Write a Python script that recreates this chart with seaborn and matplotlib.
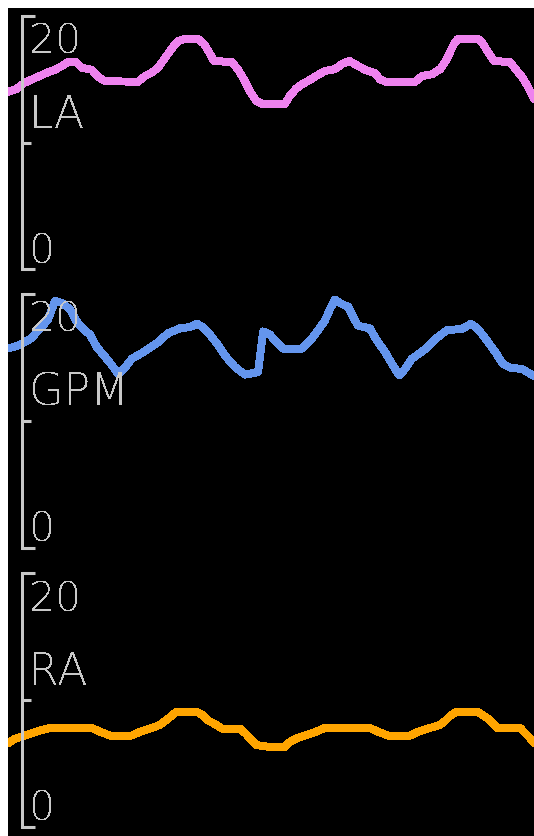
import matplotlib
matplotlib.use("Agg")
import matplotlib.pyplot as plt
from matplotlib.patches import Rectangle
import seaborn as sns

sns.set_style("white")
plt.rcParams["font.family"] = ["DejaVu Sans"]
plt.rcParams["text.antialiased"] = False

# Pressure traces (time in s, pressure in mmHg)
la_time = [0.000, 0.030, 0.061, 0.103, 0.152, 0.179, 0.205, 0.228, 0.259, 0.281,
           0.319, 0.342, 0.369, 0.494, 0.521, 0.548, 0.570, 0.589, 0.608, 0.627,
           0.646, 0.673, 0.722, 0.745, 0.764, 0.783, 0.852, 0.875, 0.897, 0.920,
           0.943, 0.966, 1.053, 1.072, 1.095, 1.118, 1.148, 1.179, 1.205, 1.243,
           1.270, 1.297, 1.323, 1.357, 1.395, 1.414, 1.437, 1.548, 1.574, 1.612,
           1.643, 1.665, 1.681, 1.696, 1.711, 1.787, 1.806, 1.825, 1.848, 1.909,
           1.932, 1.954, 1.977, 2.000]
la_values = [14.0, 14.2, 14.7, 15.1, 15.55, 15.75, 16.05, 16.35, 16.35, 15.9,
             15.75, 15.2, 14.85, 14.8, 15.25, 15.55, 15.9, 16.45, 17.0, 17.55,
             18.0, 18.2, 18.2, 17.8, 17.15, 16.45, 16.35, 15.75, 15.0, 14.05,
             13.3, 13.05, 13.05, 13.7, 14.25, 14.6, 14.95, 15.35, 15.65, 15.8,
             16.2, 16.45, 16.15, 15.75, 15.5, 15.0, 14.8, 14.8, 15.25, 15.4,
             15.8, 16.45, 17.15, 17.8, 18.2, 18.2, 17.8, 17.15, 16.45, 16.35,
             15.75, 15.2, 14.4, 13.45]

gpm_time = [0.000, 0.046, 0.084, 0.122, 0.152, 0.179, 0.205, 0.236, 0.259, 0.285,
            0.312, 0.338, 0.369, 0.395, 0.418, 0.441, 0.471, 0.521, 0.570, 0.608,
            0.654, 0.692, 0.719, 0.741, 0.768, 0.798, 0.829, 0.863, 0.901, 0.951,
            0.970, 0.996, 1.023, 1.046, 1.118, 1.148, 1.179, 1.205, 1.224, 1.243,
            1.270, 1.293, 1.312, 1.331, 1.376, 1.399, 1.433, 1.460, 1.487, 1.510,
            1.536, 1.586, 1.624, 1.669, 1.726, 1.760, 1.787, 1.817, 1.852, 1.882,
            1.909, 1.954, 2.000]
gpm_values = [15.7, 16.0, 16.45, 17.25, 18.0, 19.45, 19.3, 18.8, 17.9, 17.25,
              16.8, 15.8, 15.05, 14.4, 13.7, 14.1, 14.9, 15.5, 16.2, 16.9,
              17.3, 17.4, 17.65, 17.4, 16.8, 16.0, 15.05, 14.25, 13.65, 13.85,
              17.05, 16.8, 16.15, 15.7, 15.7, 16.3, 17.15, 17.9, 18.8, 19.55,
              19.2, 19.0, 18.2, 17.5, 17.3, 16.45, 15.45, 14.5, 13.6, 14.1,
              14.9, 15.65, 16.45, 17.15, 17.25, 17.65, 17.25, 16.45, 15.45, 14.5,
              14.2, 14.1, 13.55]

ra_time = [0.000, 0.027, 0.072, 0.114, 0.160, 0.319, 0.350, 0.388, 0.471, 0.502,
           0.548, 0.578, 0.597, 0.616, 0.639, 0.719, 0.741, 0.760, 0.787, 0.814,
           0.882, 0.901, 0.920, 0.943, 0.996, 1.053, 1.072, 1.099, 1.129, 1.171,
           1.205, 1.376, 1.407, 1.445, 1.529, 1.559, 1.605, 1.643, 1.662, 1.681,
           1.703, 1.787, 1.810, 1.833, 1.859, 1.947, 1.966, 1.985, 2.000]
ra_values = [6.6, 6.95, 7.25, 7.55, 7.8, 7.8, 7.5, 7.2, 7.2, 7.5,
             7.8, 8.05, 8.35, 8.65, 9.05, 9.05, 8.8, 8.4, 8.1, 7.75,
             7.75, 7.4, 7.0, 6.45, 6.3, 6.3, 6.7, 7.0, 7.2, 7.5,
             7.8, 7.8, 7.5, 7.2, 7.2, 7.5, 7.8, 8.05, 8.35, 8.75,
             9.05, 9.05, 8.75, 8.4, 7.8, 7.8, 7.4, 7.0, 6.6]

names = ["LA", "GPM", "RA"]
colors = ["violet", "cornflowerblue", "orange"]
series = [(la_time, la_values), (gpm_time, gpm_values), (ra_time, ra_values)]
y_max = 20
y_labels = ["20", "0"]

W, H = 534, 837
GREY = "#c8c8c8"
fig = plt.figure(figsize=(W / 100, H / 100), dpi=100, facecolor="white")
fig.patches.append(Rectangle((8 / W, 0), 1 - 8 / W, (H - 9) / H,
                             transform=fig.transFigure, facecolor="black",
                             edgecolor="none", zorder=-10))

# panel extents in pixels from the top edge (top, bottom)
extents = [(17, 270), (295, 549), (574, 828)]

for (t, v), name, color, (top, bottom) in zip(series, names, colors, extents):
    ax = fig.add_axes([8 / W, (H - bottom) / H, 526 / W, (bottom - top) / H])
    ax.set_facecolor("none")
    sns.lineplot(x=t, y=v, ax=ax, color=color, linewidth=5.0,
                 antialiased=False, estimator=None, sort=False)
    ax.set_xlim(0, 2)
    ax.set_ylim(0, y_max)
    ax.set_xlabel("")
    ax.set_ylabel("")
    for s in ("top", "right", "bottom"):
        ax.spines[s].set_visible(False)
    sp = ax.spines["left"]
    sp.set_position(("axes", 14 / 526))
    sp.set_color(GREY)
    sp.set_linewidth(2.0)
    sp.set_antialiased(False)
    ax.set_xticks([])
    ax.set_yticks([0, y_max])
    ax.set_yticks([y_max / 2], minor=True)
    ax.tick_params(axis="y", which="major", direction="in", length=9.5,
                   width=2.2, color=GREY, left=True, labelleft=False)
    ax.tick_params(axis="y", which="minor", direction="in", length=6.5,
                   width=2.2, color=GREY, left=True, labelleft=False)

    kw = dict(xycoords="axes fraction", textcoords="offset pixels",
              color=GREY, ha="left", va="baseline", fontweight="light")
    ax.annotate(y_labels[0], xy=(0, 1), xytext=(21, -37), fontsize=29.5, **kw)
    ax.annotate(name, xy=(0, 1), xytext=(21, -111), fontsize=32, **kw)
    ax.annotate(y_labels[1], xy=(0, 0), xytext=(21, 7), fontsize=29.5, **kw)

fig.savefig("out.png", dpi=100, facecolor="white")
